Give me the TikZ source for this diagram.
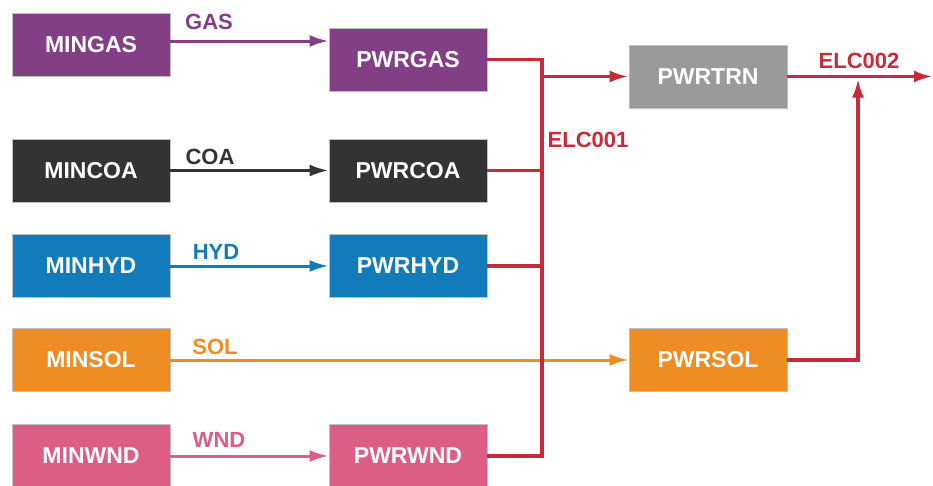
\documentclass[tikz,border=0pt]{standalone}
\usepackage{fontspec}
\setmainfont{Liberation Sans}
\usetikzlibrary{arrows.meta}
\definecolor{gascol}{HTML}{833F86}
\definecolor{coacol}{HTML}{333333}
\definecolor{hydcol}{HTML}{127BBB}
\definecolor{solcol}{HTML}{EE8D24}
\definecolor{wndcol}{HTML}{DD5E84}
\definecolor{trncol}{HTML}{9A9A9A}
\definecolor{elccol}{HTML}{C42B3B}
\tikzset{
	techbox/.style={draw=black!25, line width=0.8pt, fill=#1, text=white,
		minimum width=158pt, minimum height=63pt, inner sep=0pt,
		font=\bfseries\fontsize{23}{23}\selectfont},
	fuel/.style={draw=#1, line width=3pt},
	fuellab/.style={text=#1, font=\bfseries\fontsize{22}{22}\selectfont},
	elc/.style={draw=elccol, line width=3.5pt}
}

\begin{document}
\begin{tikzpicture}[x=1pt,y=-1pt,>={Latex[length=19pt,width=12pt]}]
		\useasboundingbox (0,0) rectangle (933,485);
		% Mining
		\node [techbox=gascol] (mingas) at (91,44.5) {MINGAS};
		\node [techbox=coacol] (mincoa) at (91,170.5) {MINCOA};
		\node [techbox=hydcol] (minhyd) at (91,266) {MINHYD};
		\node [techbox=solcol] (minsol) at (91,360) {MINSOL};
		\node [techbox=wndcol] (minwnd) at (91,456) {MINWND};
		
		% Centrali
		\node [techbox=gascol] (pwrgas) at (408,59.5) {PWRGAS};
		\node [techbox=coacol] (pwrcoa) at (408,170.5) {PWRCOA};
		\node [techbox=hydcol] (pwrhyd) at (408,266) {PWRHYD};
		\node [techbox=solcol] (pwrsol) at (708,360) {PWRSOL};
		\node [techbox=wndcol] (pwrwnd) at (408,456) {PWRWND};
		\node [techbox=trncol] (pwrtrn) at (708,76.5) {PWRTRN};
		
		% Combustibili
		\draw [->, fuel=gascol] ([yshift=3.5pt]mingas.east) -- ([yshift=3.5pt]mingas.east -| pwrgas.west);
		\draw [->, fuel=coacol] (mincoa.east) -- (pwrcoa.west);
		\draw [->, fuel=hydcol] (minhyd.east) -- (pwrhyd.west);
		\draw [->, fuel=solcol] (minsol.east) -- (pwrsol.west);
		\draw [->, fuel=wndcol] (minwnd.east) -- (pwrwnd.west);
		\node [fuellab=gascol] (gaslab) at (209,22) {GAS};
		\node [fuellab=coacol] (coalab) at (210,157) {COA};
		\node [fuellab=hydcol] (hydlab) at (216,252) {HYD};
		\node [fuellab=solcol] (sollab) at (215,347) {SOL};
		\node [fuellab=wndcol] (wndlab) at (219,440) {WND};
		
		% ELC001
		\coordinate (bustop) at (542,59.5);
		\coordinate (busbot) at (542,456);
		\draw [elc] (pwrgas.east) -- (bustop) -- (busbot) -- (pwrwnd.east);
		\draw [elc] (pwrcoa.east) -- (pwrcoa.east -| bustop);
		\draw [elc] (pwrhyd.east) -- (pwrhyd.east -| bustop);
		\draw [->, elc] (bustop |- pwrtrn.west) -- (pwrtrn.west);
		\node [fuellab=elccol] (elc1lab) at (588,140) {ELC001};
		
		% ELC002
		\coordinate (elcjoin) at (858,76.5);
		\coordinate (elcout) at (933,76.5);
		\draw [->, elc] (pwrtrn.east) -- (elcout);
		\draw [->, elc] (pwrsol.east) -| ([yshift=-2pt]elcjoin);
		\node [fuellab=elccol] (elc2lab) at (859,61) {ELC002};
	\end{tikzpicture}
\end{document}
